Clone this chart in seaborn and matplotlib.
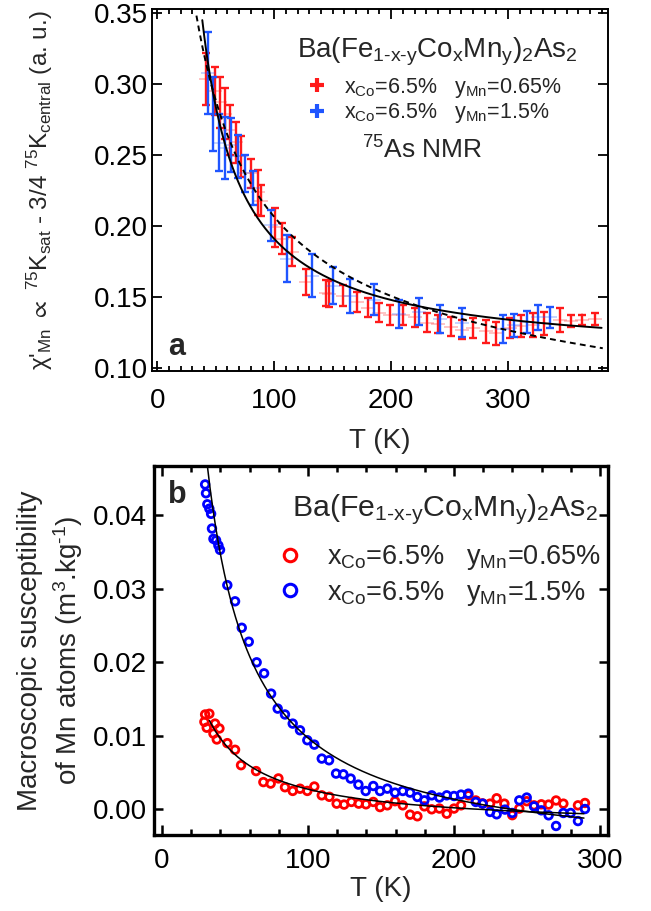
import numpy as np
import matplotlib
matplotlib.use("Agg")
import matplotlib.pyplot as plt
import seaborn as sns
from matplotlib.lines import Line2D
from matplotlib.ticker import MultipleLocator

# ---- panel a: 75As NMR shift data (T in K, value, error) ----
t_red_a = [42, 49, 54, 58, 62, 67, 72, 80, 86, 89, 101, 107, 115, 127, 144, 147,
           159, 171, 180, 190, 199, 210, 220, 231, 240, 251, 261, 270, 281, 290,
           302, 311, 321, 331, 344, 354, 363, 374]
k_red_a = [0.3035, 0.295, 0.287, 0.279, 0.2676, 0.259, 0.249, 0.237, 0.2236, 0.2178,
           0.199, 0.191, 0.182, 0.1607, 0.153, 0.152, 0.151, 0.1467, 0.1425, 0.139,
           0.137, 0.137, 0.1356, 0.132, 0.131, 0.129, 0.127, 0.128, 0.1258, 0.1244,
           0.128, 0.1297, 0.1302, 0.1314, 0.1338, 0.133, 0.1338, 0.1344]
e_red_a = [0.018, 0.017, 0.018, 0.018, 0.0176, 0.0145, 0.0145, 0.010, 0.016, 0.011,
           0.0135, 0.011, 0.0105, 0.0093, 0.0092, 0.009, 0.0074, 0.007, 0.0065, 0.0065,
           0.007, 0.007, 0.0065, 0.0065, 0.0065, 0.0068, 0.0068, 0.007, 0.008, 0.0082,
           0.007, 0.0077, 0.0082, 0.0082, 0.0082, 0.004, 0.0035, 0.004]

t_blue_a = [43, 48, 53, 58, 63, 69, 75, 82, 97, 111, 132, 150, 165, 185, 207, 224,
            242, 261, 296, 305, 316, 326, 336]
k_blue_a = [0.3075, 0.279, 0.2585, 0.255, 0.257, 0.249, 0.237, 0.227, 0.2005, 0.177,
            0.165, 0.158, 0.1508, 0.148, 0.138, 0.1397, 0.1344, 0.132, 0.1275, 0.130,
            0.1325, 0.1356, 0.1356]
e_blue_a = [0.029, 0.026, 0.020, 0.022, 0.019, 0.015, 0.013, 0.012, 0.011, 0.0165,
            0.0153, 0.013, 0.0118, 0.011, 0.010, 0.0094, 0.010, 0.010, 0.0098, 0.008,
            0.0076, 0.0088, 0.0076]

# fit parameters, panel a
fit_a_solid = dict(a=0.107, c=7.97, theta=5.0, t0=38.5, t1=380)
fit_a_dash = dict(a=0.1003, b=-5.17e-5, c=13.35, theta=-20.0, t0=33.5, t1=381)

# ---- panel b: macroscopic susceptibility ----
t_red_b = [29, 29.5, 30.6, 32.4, 35.2, 36.3, 37.5, 39.3, 44.7, 50, 54.1, 64.4, 69.4,
           74.4, 79.7, 84.2, 89.5, 94.5, 99.5, 104.3, 109.4, 114.6, 119.6, 124.7,
           129.7, 134.7, 139.7, 144.7, 149.3, 154.3, 159.6, 164.9, 169.9, 174.9,
           179.7, 184.7, 190, 195, 200, 204.8, 209.8, 214.9, 219.6, 224.7, 229.2,
           234.5, 239.9, 244.7, 249.8, 254.8, 259.8, 264.8, 269.9, 274.9, 284.9, 289.7]
m_red_b = [0.0119, 0.0129, 0.0111, 0.0130, 0.0103, 0.01166, 0.0095, 0.0110, 0.0090,
           0.0081, 0.0060, 0.0052, 0.0037, 0.0035, 0.0042, 0.0030, 0.0025, 0.0028,
           0.0025, 0.0031, 0.0019, 0.0017, 0.00077, 0.00064, 0.0010, 0.00077, 0.00068,
           0.0010, 0.0003, 0.00054, 0.0011, 0.00054, -0.00073, -0.00095, 0.0004, 0.0,
           0.0001, -0.0006, 0.0001, 0.00054, 0.0019, 0.0012, 0.0008, 0.00077, 0.0015,
           0.00077, -0.0008, 0.0001, 0.0011, 0.00054, 0.00068, 0.00064, 0.0012,
           0.00077, 0.00054, 0.00086]

t_blue_b = [29.5, 30.1, 31, 32.4, 33.6, 34.2, 35.2, 37, 38.6, 39.7, 44.7, 50, 54.6,
            59.4, 64.8, 69.9, 74.7, 79.2, 84.2, 89.5, 94.5, 99.5, 104.3, 109.4, 114.4,
            119.2, 124.2, 129.2, 134.5, 139.5, 144.7, 149.3, 154.3, 159.6, 164.9,
            169.9, 174.9, 179.7, 184.7, 190, 195, 200, 204.8, 209.8, 214.9, 219.6,
            224.7, 229.2, 234.9, 239.9, 244.7, 249.8, 254.8, 259.8, 264.8, 269.9,
            274.9, 279.9, 284.9, 289.7]
m_blue_b = [0.0442, 0.0430, 0.0415, 0.0409, 0.0402, 0.0382, 0.0368, 0.0366, 0.0359,
            0.0353, 0.0305, 0.0283, 0.0247, 0.0228, 0.0200, 0.0185, 0.01574, 0.0137,
            0.0129, 0.01166, 0.01075, 0.0094, 0.0088, 0.0069, 0.00667, 0.00486,
            0.00476, 0.00418, 0.00336, 0.00249, 0.00317, 0.00249, 0.00281, 0.00227,
            0.00249, 0.00227, 0.00168, 0.00122, 0.0019, 0.0016, 0.0019, 0.00181,
            0.0020, 0.00213, 0.0010, 0.00077, -0.00036, -0.00068, -0.00004, -0.0005,
            0.00122, 0.0016, 0.0004, -0.00014, -0.00082, -0.00227, -0.0005, -0.0005,
            -0.0016, 0.00004]

fit_b_red = dict(a=-0.00245, c=0.544, theta=-5.0, t0=32.4, t1=289)
fit_b_blue = dict(a=-0.00696, c=1.666, theta=0.0, t0=31.0, t1=289)

label_red = r"x$_{\mathrm{Co}}$=6.5%   y$_{\mathrm{Mn}}$=0.65%"
label_blue = r"x$_{\mathrm{Co}}$=6.5%   y$_{\mathrm{Mn}}$=1.5%"
compound = (r"Ba(Fe$_{\text{1-x-y}}$Co$_{\mathrm{x}}$Mn$_{\mathrm{y}}$)"
            r"$_{\mathrm{2}}$As$_{\mathrm{2}}$")

RED_A, BLUE_A = "#ff1a1a", "#1f55ff"
RED_B, BLUE_B = "#ff0000", "#0000ff"

sns.set_theme(style="ticks")
plt.rcParams["font.family"] = ["Liberation Sans", "DejaVu Sans"]
plt.rcParams["mathtext.fontset"] = "custom"
plt.rcParams["mathtext.rm"] = "Liberation Sans"
plt.rcParams["mathtext.it"] = "Liberation Sans:italic"
plt.rcParams["mathtext.bf"] = "Liberation Sans:bold"
plt.rcParams["mathtext.sf"] = "Liberation Sans"
plt.rcParams["mathtext.fallback"] = "stixsans"

fig = plt.figure(figsize=(6.51, 9.11), dpi=100)
ax_a = fig.add_axes([0.2335, 0.5928, 0.7005, 0.3974])
ax_b = fig.add_axes([0.2366, 0.0834, 0.6974, 0.4050])


def curie(t, a, c, theta, b=0.0):
    return a + b * t + c / (t - theta)


# ---------- panel a ----------
for t, k, e, col in [(t_red_a, k_red_a, e_red_a, RED_A), (t_blue_a, k_blue_a, e_blue_a, BLUE_A)]:
    ax_a.errorbar(t, k, yerr=e, fmt="none", ecolor=col, elinewidth=1.7,
                  capsize=2.6, capthick=1.7, zorder=2)
    sns.scatterplot(x=t, y=k, ax=ax_a, marker="+", s=90, color=col, alpha=0.3,
                    linewidth=1.2, zorder=2, legend=False)

ts = np.linspace(fit_a_solid["t0"], fit_a_solid["t1"], 400)
sns.lineplot(x=ts, y=curie(ts, fit_a_solid["a"], fit_a_solid["c"], fit_a_solid["theta"]),
             ax=ax_a, color="black", lw=1.4, zorder=3)
td = np.linspace(fit_a_dash["t0"], fit_a_dash["t1"], 400)
ax_a.plot(td, curie(td, fit_a_dash["a"], fit_a_dash["c"], fit_a_dash["theta"], fit_a_dash["b"]),
          color="black", lw=1.4, ls=(0, (3, 2.2)), zorder=3)

ax_a.set_xlim(-4.5, 385.5)
ax_a.set_ylim(0.0979, 0.3528)
ax_a.xaxis.set_major_locator(MultipleLocator(100))
ax_a.xaxis.set_minor_locator(MultipleLocator(10))
ax_a.yaxis.set_major_locator(MultipleLocator(0.05))
ax_a.yaxis.set_major_formatter(plt.FormatStrFormatter("%.2f"))
ax_a.tick_params(which="both", direction="in", top=True, right=True, width=1.3,
                 labelsize=20, colors="black")
ax_a.tick_params(axis="x", which="major", length=7, pad=12)
ax_a.tick_params(axis="x", which="minor", length=3.5)
ax_a.tick_params(axis="y", which="major", length=7, pad=3)
for sp in ax_a.spines.values():
    sp.set_linewidth(1.4)
    sp.set_color("black")
ax_a.set_xlabel("T (K)", fontsize=20, labelpad=10)
ax_a.set_ylabel(r"χ'$_{\mathrm{Mn}}$ $\propto$ $^{\mathrm{75}}$K$_{\mathrm{sat}}$ - 3/4 "
                r"$^{\mathrm{75}}$K$_{\mathrm{central}}$ (a. u.)", fontsize=17.5, labelpad=28)

ax_a.text(0.318, 0.881, compound, transform=ax_a.transAxes, fontsize=20,
          ha="left", va="center")
ax_a.text(0.592, 0.61, r"$^{\mathrm{75}}$As NMR", transform=ax_a.transAxes, fontsize=19,
          ha="center", va="center")
ax_a.text(0.053, 0.066, "a", transform=ax_a.transAxes, fontsize=22, fontweight="bold",
          ha="center", va="center")
handles_a = [Line2D([], [], ls="none", marker="+", ms=10, mew=3, color=RED_A),
             Line2D([], [], ls="none", marker="+", ms=10, mew=3, color=BLUE_A)]
ax_a.legend(handles_a, [label_red, label_blue], loc="upper left",
            bbox_to_anchor=(0.338, 0.815), frameon=False, fontsize=15.5,
            handlelength=1.0, handletextpad=0.75, labelspacing=0.07,
            borderpad=0, borderaxespad=0)

# ---------- panel b ----------
tb = np.linspace(fit_b_red["t0"], fit_b_red["t1"], 400)
sns.lineplot(x=tb, y=curie(tb, fit_b_red["a"], fit_b_red["c"], fit_b_red["theta"]),
             ax=ax_b, color="black", lw=1.1, zorder=3)
tb2 = np.linspace(fit_b_blue["t0"], fit_b_blue["t1"], 400)
sns.lineplot(x=tb2, y=curie(tb2, fit_b_blue["a"], fit_b_blue["c"], fit_b_blue["theta"]),
             ax=ax_b, color="black", lw=1.1, zorder=3)
sns.scatterplot(x=t_red_b, y=m_red_b, ax=ax_b, marker="o", s=30, facecolor="none",
                edgecolor=RED_B, linewidth=2.0, zorder=2, legend=False)
sns.scatterplot(x=t_blue_b, y=m_blue_b, ax=ax_b, marker="o", s=30, facecolor="none",
                edgecolor=BLUE_B, linewidth=2.0, zorder=2, legend=False)

ax_b.set_xlim(-5.5, 305.5)
ax_b.set_ylim(-0.0035, 0.0467)
ax_b.xaxis.set_major_locator(MultipleLocator(100))
ax_b.xaxis.set_minor_locator(MultipleLocator(20))
ax_b.yaxis.set_major_locator(MultipleLocator(0.01))
ax_b.yaxis.set_major_formatter(plt.FormatStrFormatter("%.2f"))
ax_b.tick_params(which="both", direction="in", top=True, right=True, width=1.8,
                 labelsize=20, colors="black")
ax_b.tick_params(axis="x", which="major", length=7, pad=9)
ax_b.tick_params(axis="x", which="minor", length=4)
ax_b.tick_params(axis="y", which="major", length=6.5, pad=5)
for sp in ax_b.spines.values():
    sp.set_linewidth(2.4)
    sp.set_color("black")
ax_b.set_xlabel("T (K)", fontsize=20, labelpad=2)
ax_b.set_ylabel("Macroscopic susceptibility\nof Mn atoms (m$^{\\mathrm{3}}$.kg$^{\\text{-1}}$)",
                fontsize=20, labelpad=6, linespacing=1.3)

ax_b.text(0.304, 0.881, compound, transform=ax_b.transAxes, fontsize=21.8,
          ha="left", va="center")
ax_b.text(0.0507, 0.921, "b", transform=ax_b.transAxes, fontsize=22, fontweight="bold",
          ha="center", va="center")
handles_b = [Line2D([], [], ls="none", marker="o", ms=9, mew=2.2, mfc="none", color=RED_B),
             Line2D([], [], ls="none", marker="o", ms=9, mew=2.2, mfc="none", color=BLUE_B)]
ax_b.legend(handles_b, [label_red, label_blue], loc="upper left",
            bbox_to_anchor=(0.2698, 0.791), frameon=False, fontsize=19.5,
            handlelength=1.0, handletextpad=0.87, labelspacing=0.25,
            borderpad=0, borderaxespad=0)

fig.savefig("out.png", dpi=100)
